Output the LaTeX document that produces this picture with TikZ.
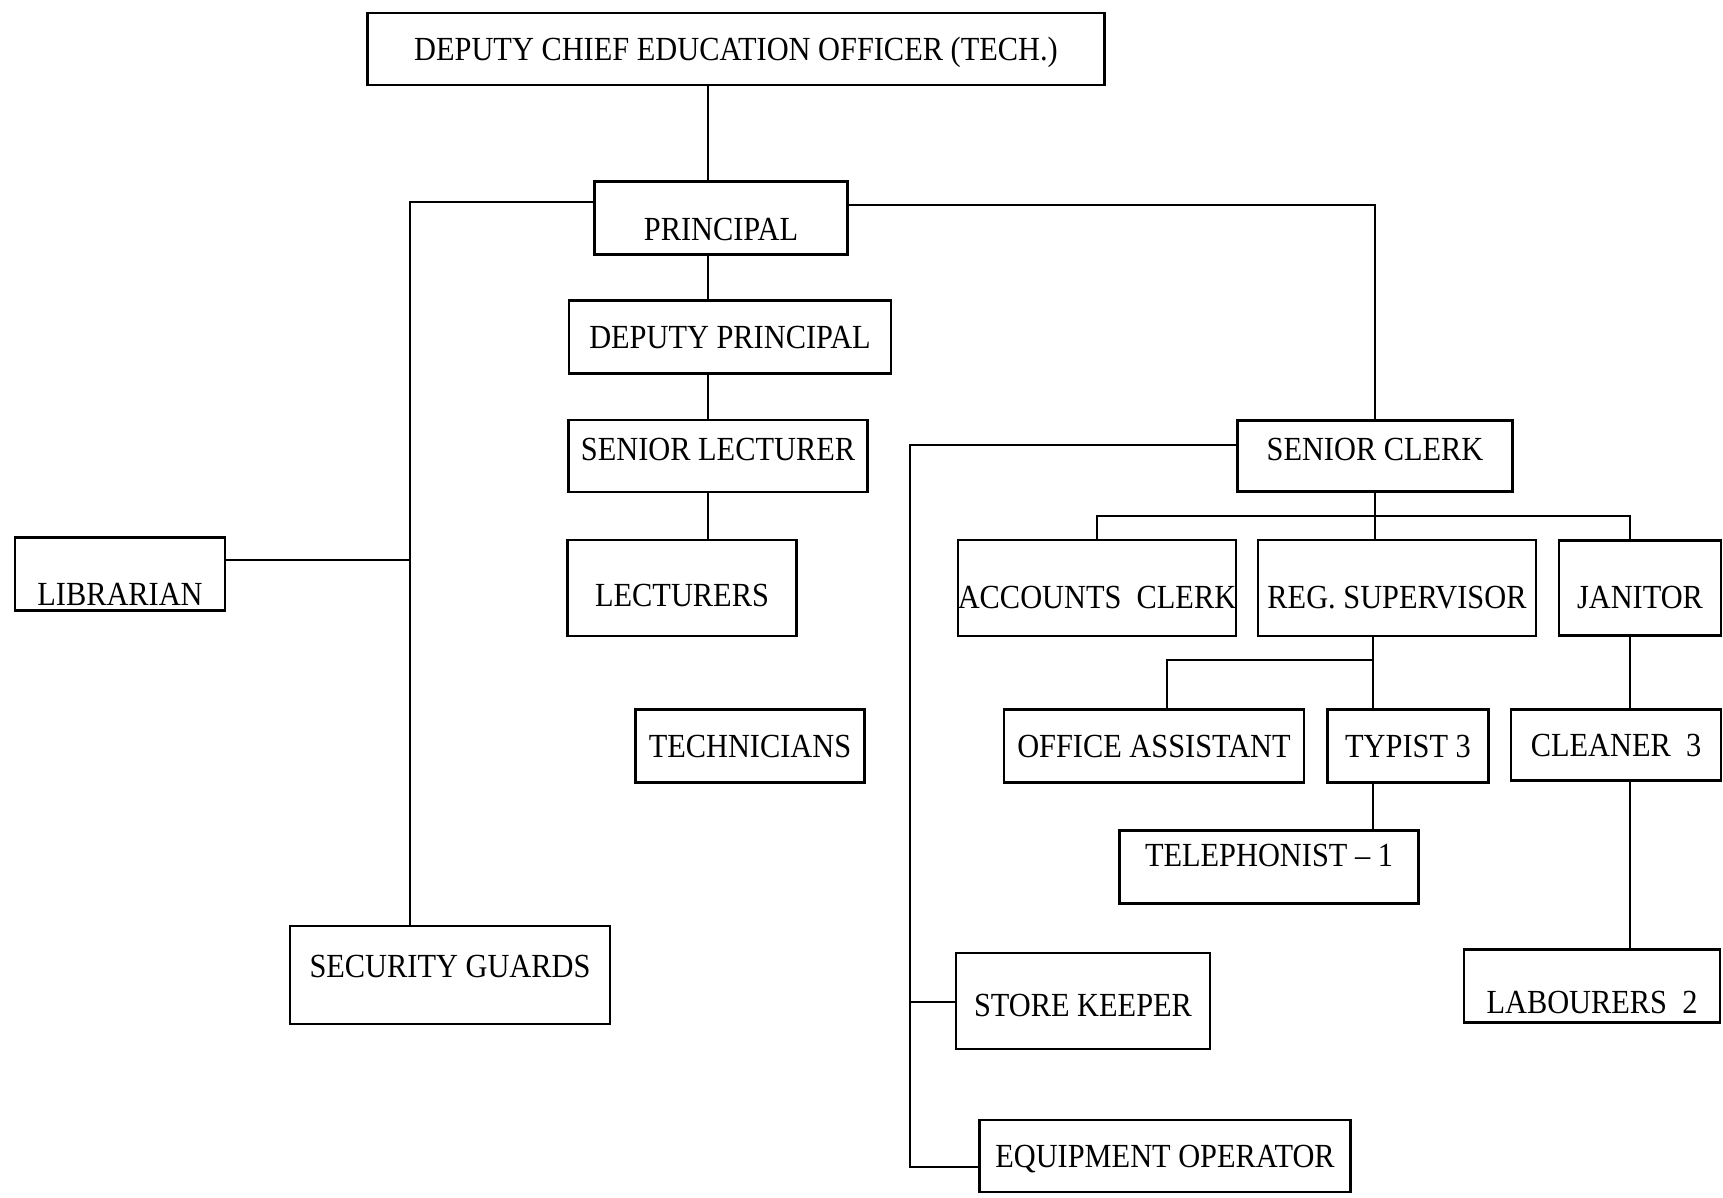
\documentclass[tikz,border=0pt]{standalone}
\usepackage{fontspec}
\setmainfont{Liberation Serif}[FakeStretch=0.9]

\tikzset{
  post/.style={draw, rectangle, inner sep=0pt, line width=0.7pt,
    text height=6.4pt, text depth=0pt, font=\fontsize{9.6}{11}\selectfont},
  drop/.style={text height=#1},
  lift/.style={text depth=#1},
  link/.style={line width=0.55pt}
}

\begin{document}
\begin{tikzpicture}
\useasboundingbox (0,0) rectangle (17.23,-11.98);

%top of the chart
\node [post, minimum width=7.37cm, minimum height=0.72cm] (dceo) at (7.36,-0.49) {DEPUTY CHIEF EDUCATION OFFICER (TECH.)};
\node [post, drop=12.6pt, minimum width=2.53cm, minimum height=0.73cm] (principal) at (7.21,-2.18) {PRINCIPAL};

%academic side
\node [post, minimum width=3.22cm, minimum height=0.73cm] (deputy) at (7.30,-3.37) {DEPUTY PRINCIPAL};
\node [post, lift=3.7pt, minimum width=2.99cm, minimum height=0.72cm] (srlect) at (7.18,-4.56) {SENIOR LECTURER};
\node [post, drop=10.8pt, minimum width=2.29cm, minimum height=0.96cm] (lect) at (6.82,-5.88) {LECTURERS};
\node [post, minimum width=2.29cm, minimum height=0.73cm] (tech) at (7.50,-7.46) {TECHNICIANS};
\node [post, drop=18.2pt, minimum width=2.10cm, minimum height=0.73cm] (lib) at (1.20,-5.74) {LIBRARIAN};
\node [post, lift=4.7pt, minimum width=3.20cm, minimum height=0.98cm] (guards) at (4.50,-9.75) {SECURITY GUARDS};

%clerical side
\node [post, lift=4pt, minimum width=2.75cm, minimum height=0.71cm] (srclerk) at (13.75,-4.56) {SENIOR CLERK};
\node [post, drop=11.4pt, minimum width=2.78cm, minimum height=0.96cm] (accts) at (10.97,-5.88) {ACCOUNTS\ \ CLERK};
\node [post, drop=11.4pt, minimum width=2.78cm, minimum height=0.96cm] (regsup) at (13.97,-5.88) {REG. SUPERVISOR};
\node [post, drop=11.4pt, minimum width=1.62cm, minimum height=0.95cm] (janitor) at (16.40,-5.88) {JANITOR};
\node [post, minimum width=3.00cm, minimum height=0.73cm] (offasst) at (11.54,-7.46) {OFFICE ASSISTANT};
\node [post, minimum width=1.61cm, minimum height=0.73cm] (typist) at (14.08,-7.46) {TYPIST 3};
\node [post, minimum width=2.10cm, minimum height=0.71cm] (cleaner) at (16.16,-7.45) {CLEANER\ \ 3};
\node [post, lift=6.6pt, minimum width=2.99cm, minimum height=0.73cm] (tel) at (12.69,-8.67) {TELEPHONIST -- 1};
\node [post, drop=15.8pt, minimum width=2.56cm, minimum height=0.73cm] (labour) at (15.92,-9.86) {LABOURERS\ \ 2};
\node [post, drop=9pt, minimum width=2.54cm, minimum height=0.96cm] (store) at (10.83,-10.01) {STORE KEEPER};
\node [post, minimum width=3.71cm, minimum height=0.72cm] (equip) at (11.65,-11.56) {EQUIPMENT OPERATOR};

%joints of the lines
\coordinate (spine) at (7.08,0);
\coordinate (lbus) at (4.10,-2.02);
\coordinate (libjoin) at (4.10,-5.60);
\coordinate (rbus) at (13.75,-2.05);
\coordinate (sbus) at (9.10,-4.45);
\coordinate (skjoin) at (9.10,-10.02);
\coordinate (eqjoin) at (9.10,-11.67);
\coordinate (cbus) at (13.75,-5.16);
\coordinate (jspine) at (16.30,0);
\coordinate (rspine) at (13.73,0);
\coordinate (rbus2) at (13.73,-6.60);
\coordinate (oaspine) at (11.67,0);

\draw [link] (dceo.south -| spine) -- (principal.north -| spine);
\draw [link] (principal.south -| spine) -- (deputy.north -| spine);
\draw [link] (deputy.south -| spine) -- (srlect.north -| spine);
\draw [link] (srlect.south -| spine) -- (lect.north -| spine);

\draw [link] (principal.west |- lbus) -| (guards.north -| lbus);
\draw [link] (lib.east |- libjoin) -- (libjoin);
\draw [link] (principal.east |- rbus) -| (srclerk.north);

\draw [link] (srclerk.west |- sbus) -| (eqjoin) -- (equip.west |- eqjoin);
\draw [link] (skjoin) -- (store.west |- skjoin);

\draw [link] (srclerk.south) -- (regsup.north -| srclerk.south);
\draw [link] (accts.north) |- (cbus) -| (janitor.north -| jspine);
\draw [link] (janitor.south -| jspine) -- (cleaner.north -| jspine);
\draw [link] (cleaner.south -| jspine) -- (labour.north -| jspine);

\draw [link] (regsup.south -| rspine) -- (typist.north -| rspine);
\draw [link] (rbus2) -| (offasst.north -| oaspine);
\draw [link] (typist.south -| rspine) -- (tel.north -| rspine);

\end{tikzpicture}
\end{document}
